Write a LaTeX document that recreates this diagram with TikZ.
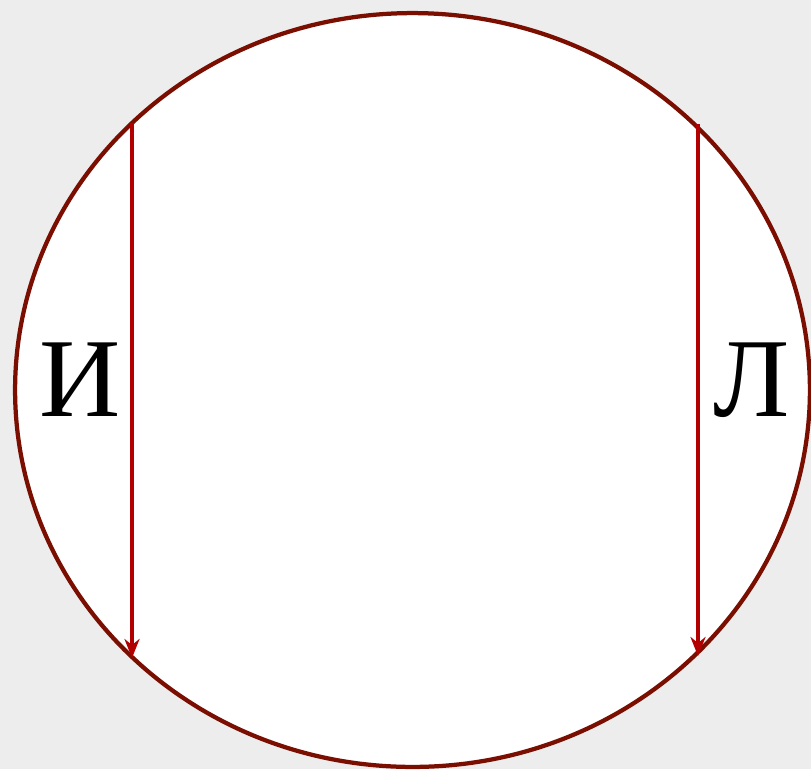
\documentclass[tikz,border=0pt]{standalone}
\usepackage{fontspec}
\setmainfont{Liberation Serif}
\usetikzlibrary{shapes,arrows.meta,positioning}
\definecolor{rim}{HTML}{7A0E00}
\definecolor{chord}{HTML}{B20000}
\definecolor{paper}{HTML}{EDEDED}
\tikzstyle{lbl}=[font=\fontsize{64}{64}\selectfont,inner sep=0pt]
\tikzstyle{arr}=[-{Stealth[length=0.38cm,width=0.3cm,inset=0.12cm]},line width=0.065cm,chord]

\begin{document}
\begin{tikzpicture}[x=0.02cm,y=-0.02cm]
\fill[paper] (0,0) rectangle (811,769);
\useasboundingbox (0,0) rectangle (811,769);
\draw[rim,fill=white,line width=0.085cm] (412.5,390) ellipse (7.95cm and 7.54cm);
\coordinate (itop) at (132,123);
\coordinate (ibot) at (132,658);
\coordinate (ltop) at (698,124);
\coordinate (lbot) at (698,656);
\draw[arr] (itop) -- (ibot);
\draw[arr] (ltop) -- (lbot);
\node[lbl] (i) at (80,380) {И};
\node[lbl] (l) at (752,380) {Л};
\end{tikzpicture}
\end{document}
